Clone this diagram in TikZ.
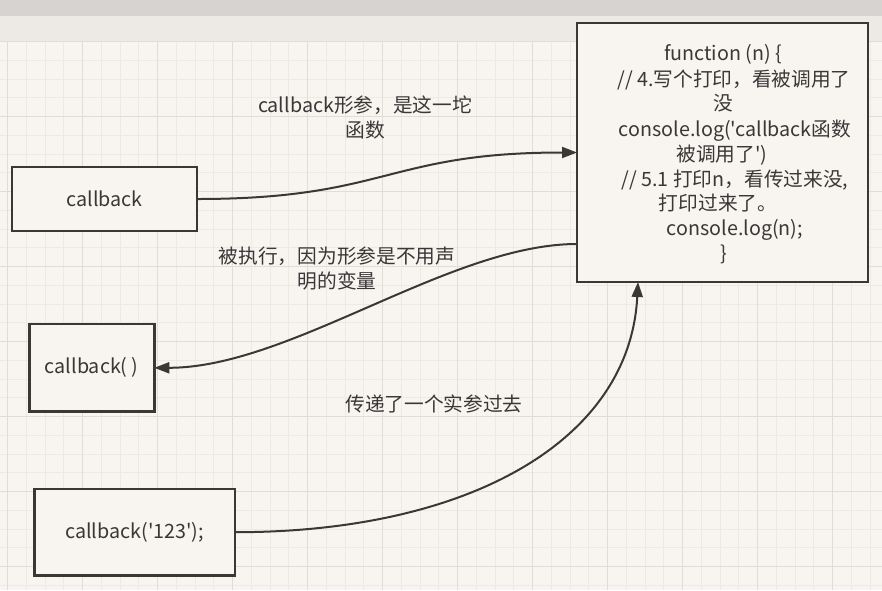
\documentclass[tikz,border=0pt]{standalone}
\usepackage{fontspec}
\setmainfont{Noto Sans CJK SC}[Ligatures=TeXOff]
\usetikzlibrary{arrows.meta}
\definecolor{bg}{HTML}{F8F4EF}
\definecolor{gridminor}{HTML}{EEE9E3}
\definecolor{gridmajor}{HTML}{E1DCD6}
\definecolor{topbar}{HTML}{D7D3D0}
\definecolor{strip}{HTML}{EDE9E4}
\definecolor{ink}{HTML}{3B3733}
\definecolor{txt}{HTML}{383838}
\begin{document}
\begin{tikzpicture}[x=1pt,y=-1pt,
  box/.style={draw=ink, line width=2.5pt, fill=bg, inner sep=0pt, outer sep=0pt, text=txt,
    font=\fontsize{19.7}{25.2}\selectfont},
  edge/.style={draw=ink, line width=2pt, -{Triangle[length=15pt,width=11pt]}},
  lbl/.style={text=txt, font=\fontsize{19.7}{25.2}\selectfont, align=center, inner sep=0pt},
  codeline/.style={lbl, anchor=base}]
\useasboundingbox (0,0) rectangle (882,590);
\fill[bg] (0,0) rectangle (882,590);
\fill[topbar] (0,0) rectangle (882,16);
\fill[strip] (0,16) rectangle (882,42);
% grid
\foreach \i in {0,...,46} \draw[gridminor, line width=1pt] ({7.7+18.75*\i},42) -- ({7.7+18.75*\i},590);
\foreach \i in {0,...,29} \draw[gridminor, line width=1pt] (0,{41.7+18.75*\i}) -- (882,{41.7+18.75*\i});
\foreach \i in {0,...,11} \draw[gridmajor, line width=1pt] ({7.7+75*\i},42) -- ({7.7+75*\i},590);
\foreach \i in {0,...,7} \draw[gridmajor, line width=1pt] (0,{41.7+75*\i}) -- (882,{41.7+75*\i});
% boxes
\node[box, minimum width=291pt, minimum height=259pt] (main) at (722.5,152.5) {};
\node[box, minimum width=185pt, minimum height=64pt] (cb) at (104.5,199) {callback};
\node[box, minimum width=125pt, minimum height=87.7pt] (cbcall) at (91.8,367.8) {callback( )};
\node[box, minimum width=200.7pt, minimum height=86.3pt] (cb123) at (134.7,532.2) {callback('123');};
% main box text
\node[codeline] (l1) at (723,60.5) {function (n) \{};
\node[codeline] (l2) at (734,86) {// 4.写个打印，看被调用了};
\node[codeline] (l3) at (723,110.5) {没};
\node[codeline] (l4) at (735,136) {console.log('callback函数};
\node[codeline] (l5) at (722,161) {被调用了')};
\node[codeline] (l6) at (735,186) {// 5.1 打印n，看传过来没,};
\node[codeline] (l7) at (718,210.5) {打印过来了。};
\node[codeline] (l8) at (735,235.5) {console.log(n);};
\node[codeline] (l9) at (723.5,260.5) {\}};
% edges
\draw[edge] (cb.east) .. controls +(190,0) and +(-190,0) .. (main.west);
\draw[edge] ([yshift=-91.5pt]main.west) .. controls +(-127,0) and +(136,0) .. (cbcall.east);
\draw[edge] (cb123.east) .. controls +(235,0) and +(-8,158) .. ([xshift=-84.5pt]main.south);
% labels
\node[lbl] (t1) at (365,117.5) {callback形参，是这一坨\\函数};
\node[lbl] (t2) at (337,268.5) {被执行，因为形参是不用声\\明的变量};
\node[lbl] (t3) at (434,404) {传递了一个实参过去};
\end{tikzpicture}
\end{document}
